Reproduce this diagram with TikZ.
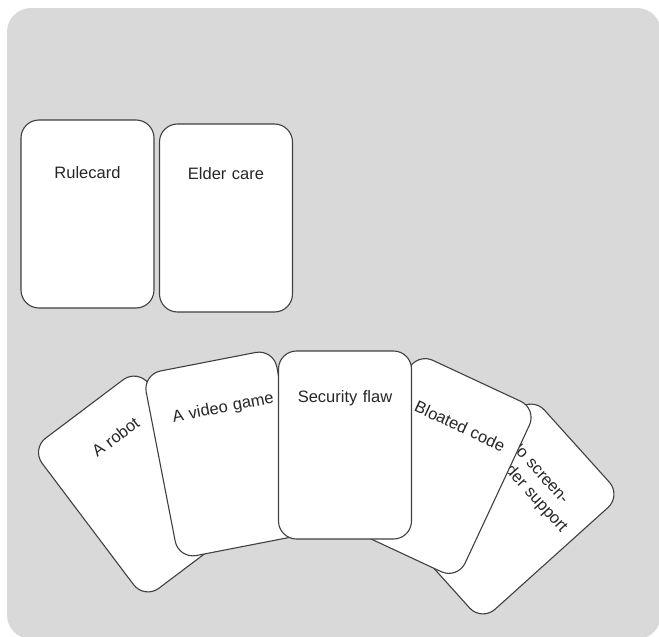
\documentclass[tikz,border=0pt]{standalone}
\usepackage{fontspec}
\setmainfont{Liberation Sans}

\begin{document}
\begin{tikzpicture}[
			x=1pt, y=-1pt,
			tablebg/.style = {fill=black!15, rounded corners=24pt},
			card/.style = {rectangle, draw=black!75, line width=1.1pt, fill=white, rounded corners=18pt,
				minimum width=133pt, minimum height=188pt, inner sep=0pt, text width=124pt, align=center,
				font=\fontsize{16.5}{20}\selectfont, text=black!85, text height=#1, text depth=188pt-#1},
			card/.default=53pt,
		]
			\useasboundingbox (0,0) rectangle (659,637);
			% table
			\fill[tablebg] (7,8) rectangle (661,639);
			% open cards
			\node[card=58pt] (rule) at (87.5,214) {Rulecard};
			\node[card=55pt] (elder) at (226,218) {Elder care};
			% hand, bottom card first
			\node[card=47pt, rotate=37] (robot) at (141,484) {\hspace*{16pt}A robot};
			\node[card=50pt, rotate=-48] (screen) at (507,509) {\hspace*{-14pt}No screen-\\reader support};
			\node[card, rotate=11] (game) at (226,454) {\hspace*{12pt}A video game};
			\node[card=54pt, rotate=-25] (bloat) at (437,466) {\hspace*{8pt}Bloated code};
			\node[card=51pt] (flaw) at (345,445) {Security flaw};
		\end{tikzpicture}
\end{document}
